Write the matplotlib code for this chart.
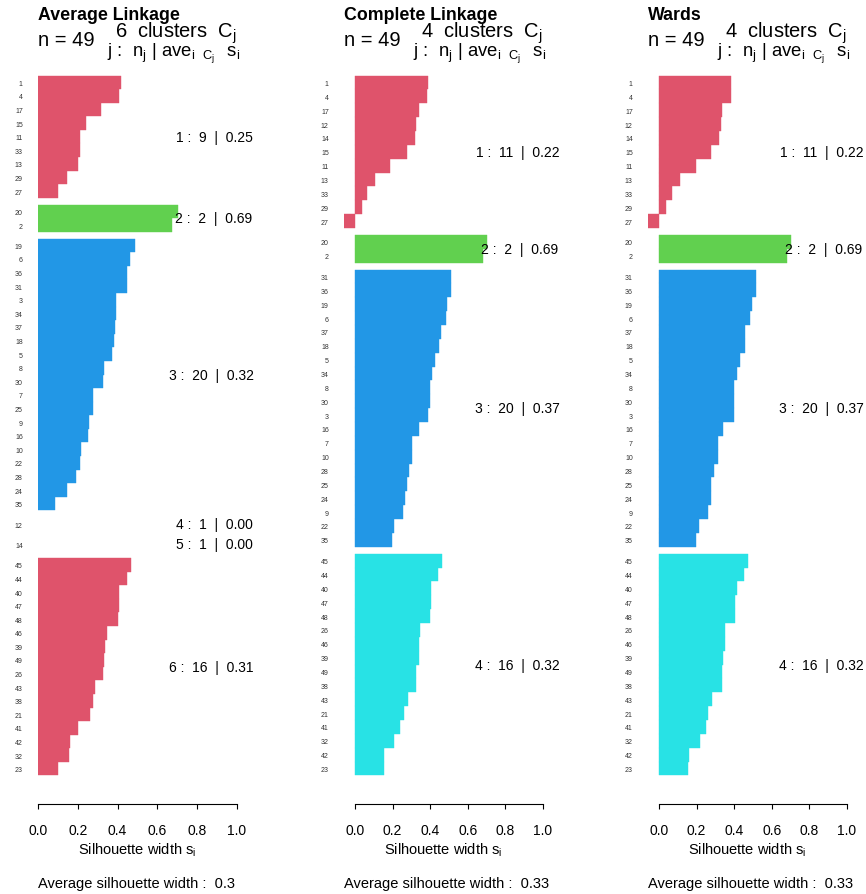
import matplotlib
matplotlib.use("Agg")
import matplotlib.pyplot as plt
from matplotlib.transforms import ScaledTranslation

plt.rcParams['font.family'] = ['Liberation Sans', 'DejaVu Sans']
plt.rcParams['mathtext.default'] = 'regular'

# ---------------- data ----------------
titles = ["Average Linkage", "Complete Linkage", "Wards"]

# Average linkage (6 clusters)
avg_labels = [
    ["1", "4", "17", "15", "11", "33", "13", "29", "27"],
    ["20", "2"],
    ["19", "6", "36", "31", "3", "34", "37", "18", "5", "8", "30", "7", "25", "9", "16", "10", "22", "28", "24", "35"],
    ["12"],
    ["14"],
    ["45", "44", "40", "47", "48", "46", "39", "49", "26", "43", "38", "21", "41", "42", "32", "23"],
]
avg_widths = [
    [0.415, 0.405, 0.315, 0.241, 0.211, 0.210, 0.201, 0.146, 0.101],
    [0.705, 0.675],
    [0.487, 0.462, 0.447, 0.447, 0.392, 0.390, 0.387, 0.382, 0.372, 0.332, 0.327, 0.276, 0.275, 0.256, 0.251, 0.216, 0.211, 0.191, 0.146, 0.085],
    [0.0],
    [0.0],
    [0.467, 0.447, 0.407, 0.405, 0.402, 0.347, 0.337, 0.332, 0.327, 0.286, 0.276, 0.261, 0.201, 0.161, 0.156, 0.101],
]

# Complete linkage (4 clusters)
comp_labels = [
    ["1", "4", "17", "12", "14", "15", "11", "13", "33", "29", "27"],
    ["20", "2"],
    ["31", "36", "19", "6", "37", "18", "5", "34", "8", "30", "3", "16", "7", "10", "28", "25", "24", "9", "22", "35"],
    ["45", "44", "40", "47", "48", "26", "46", "39", "49", "38", "43", "21", "41", "32", "42", "23"],
]
comp_widths = [
    [0.390, 0.385, 0.340, 0.324, 0.319, 0.277, 0.186, 0.106, 0.064, 0.037, -0.058],
    [0.700, 0.680],
    [0.509, 0.509, 0.489, 0.482, 0.456, 0.445, 0.424, 0.408, 0.397, 0.397, 0.387, 0.339, 0.301, 0.301, 0.286, 0.275, 0.264, 0.254, 0.206, 0.195],
    [0.463, 0.441, 0.404, 0.404, 0.399, 0.344, 0.339, 0.339, 0.323, 0.323, 0.280, 0.259, 0.238, 0.206, 0.153, 0.153],
]

# Ward (4 clusters)
ward_labels = [
    ["1", "4", "17", "12", "14", "15", "11", "13", "33", "29", "27"],
    ["20", "2"],
    ["31", "36", "19", "6", "37", "18", "5", "34", "8", "30", "3", "16", "7", "10", "28", "25", "24", "9", "22", "35"],
    ["45", "44", "40", "47", "48", "26", "46", "39", "49", "38", "43", "21", "41", "32", "42", "23"],
]
ward_widths = [
    [0.385, 0.383, 0.335, 0.330, 0.319, 0.277, 0.197, 0.112, 0.069, 0.037, -0.058],
    [0.700, 0.680],
    [0.516, 0.516, 0.495, 0.484, 0.457, 0.457, 0.431, 0.415, 0.399, 0.399, 0.399, 0.340, 0.314, 0.314, 0.293, 0.277, 0.277, 0.261, 0.213, 0.197],
    [0.473, 0.452, 0.415, 0.404, 0.404, 0.351, 0.351, 0.340, 0.335, 0.335, 0.282, 0.261, 0.250, 0.218, 0.160, 0.154],
]

RED, GREEN, BLUE, CYAN = "#DF536B", "#61D04F", "#2297E6", "#28E2E5"
avg_colors = [RED, GREEN, BLUE, CYAN, RED, RED]
comp_colors = [RED, GREEN, BLUE, CYAN]
ward_colors = [RED, GREEN, BLUE, CYAN]

panels = [
    (titles[0], avg_labels, avg_widths, avg_colors),
    (titles[1], comp_labels, comp_widths, comp_colors),
    (titles[2], ward_labels, ward_widths, ward_colors),
]

# ---------------- layout (pixels) ----------------
W, H = 866, 895
DPI = 100
fig = plt.figure(figsize=(W / DPI, H / DPI), dpi=DPI)
plot_top, plot_bot = 48.5, 804.5
lefts = [38, 344, 648]
pw = 199

BIG = 14.5
BIG2 = 13.3
TICK = 10
LAB = 10.5
CL = 10
texts_adj = []

for k, (title, labs, wids, cols) in enumerate(panels):
    ax = fig.add_axes([lefts[k] / W, 1 - plot_bot / H, pw / W, (plot_bot - plot_top) / H])
    allw = [w for grp in wids for w in grp]
    xmin = min(0.0, min(allw))
    ax.set_xlim(xmin, 1.0)

    pos = 0.0
    centers, names = [], []
    cl_centers = []
    for ci, (grp_l, grp_w) in enumerate(zip(labs, wids)):
        if ci > 0:
            pos += 0.5
        cy = []
        for lab, w in zip(grp_l, grp_w):
            c = pos + 0.5
            if w != 0:
                ax.barh(c, w, height=1.0, color=cols[ci], edgecolor=cols[ci], linewidth=0.3)
            else:
                ax.barh(c, w, height=1.0, color=cols[ci], linewidth=0)
            centers.append(c)
            names.append(lab)
            cy.append(c)
            pos += 1.0
        cl_centers.append(sum(cy) / len(cy))
    N = pos
    ax.set_ylim(N + 0.04 * N, -0.04 * N)

    ax.set_yticks(centers)
    ax.set_yticklabels(names, fontsize=5, color="#333333")
    ax.tick_params(axis='y', length=0, pad=11)

    ax.set_xticks([0, 0.2, 0.4, 0.6, 0.8, 1.0])
    ax.set_xticklabels(["0.0", "0.2", "0.4", "0.6", "0.8", "1.0"], fontsize=TICK)
    ax.tick_params(axis='x', length=3.8, width=0.8, pad=10, direction='out')
    for s in ["top", "left", "right"]:
        ax.spines[s].set_visible(False)
    ax.spines["bottom"].set_bounds(0, 1)
    ax.spines["bottom"].set_linewidth(0.8)

    # cluster summary text
    for ci, (grp_w) in enumerate(wids):
        avg = sum(grp_w) / len(grp_w)
        lab = f"{ci + 1} :  {len(grp_w)}  |  {avg:.2f}"
        t = ax.text(1.0, cl_centers[ci], lab, fontsize=CL, ha='left', va='center', clip_on=False)
        texts_adj.append((ax, t))

    # titles / margin text
    ax.annotate(title, xy=(0, 1), xycoords='axes fraction', xytext=(0, 28.5),
                textcoords='offset pixels', ha='left', va='baseline', fontsize=12.8, fontweight='bold')
    ax.annotate("n = 49", xy=(0, 1), xycoords='axes fraction', xytext=(0, 2.5),
                textcoords='offset pixels', ha='left', va='baseline', fontsize=BIG)
    ax.annotate(f"{len(wids)}  clusters  $C_j$", xy=(1, 1), xycoords='axes fraction', xytext=(0, 10.8),
                textcoords='offset pixels', ha='right', va='baseline', fontsize=BIG)
    ax.annotate(r"j :  $n_j$ | $ave_{i\ \ C_j}\ \ s_i$", xy=(1, 1), xycoords='axes fraction', xytext=(3, -8.5),
                textcoords='offset pixels', ha='right', va='baseline', fontsize=BIG2)

    ax.annotate("Silhouette width $s_i$", xy=(0.5, 0), xycoords='axes fraction', xytext=(0, -50),
                textcoords='offset pixels', ha='center', va='baseline', fontsize=LAB)
    total = sum(allw) / len(allw)
    ax.annotate(f"Average silhouette width :  {round(total, 2):g}", xy=(0, 0), xycoords='axes fraction',
                xytext=(0, -83.5), textcoords='offset pixels', ha='left', va='baseline', fontsize=LAB)

fig.canvas.draw()
r = fig.canvas.get_renderer()
for ax, t in texts_adj:
    w = t.get_window_extent(r).width
    t.set_transform(ax.transData + ScaledTranslation(-0.8 * w / DPI, 0, fig.dpi_scale_trans))

fig.savefig("out.png", dpi=DPI)
